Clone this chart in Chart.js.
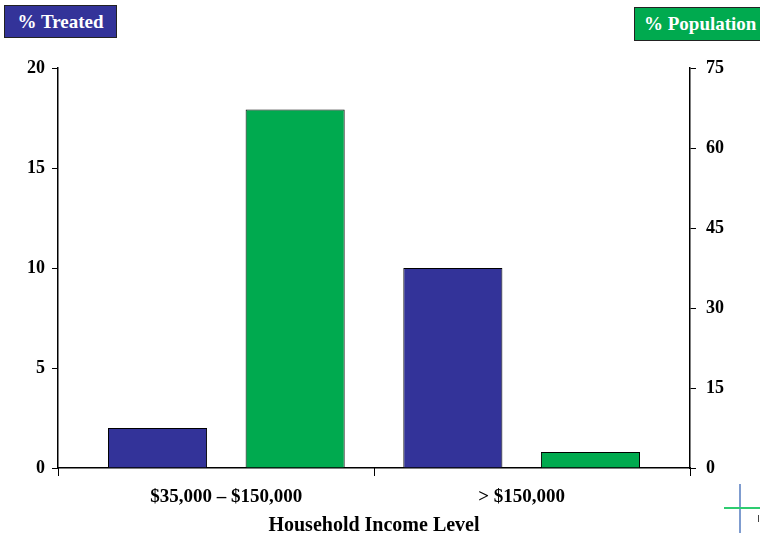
<!DOCTYPE html>
<html>
<head>
<meta charset="utf-8">
<script src="https://cdn.jsdelivr.net/npm/chart.js@4"></script>
<style>
  body { margin: 0; background: #fff; }
  #wrap { position: relative; width: 760px; height: 535px; }
  .key {
    position: absolute; color: #fff; font: bold 19px "Liberation Serif", "Times New Roman", serif;
    border: 1px solid #222; box-sizing: border-box; display: flex; align-items: center; justify-content: center;
  }
</style>
</head>
<body>
<div id="wrap">
  <canvas id="chart" width="760" height="535"></canvas>
  <div class="key" style="left:4px;top:5px;width:113px;height:33px;background:#333399;">% Treated</div>
  <div class="key" style="left:634px;top:7px;width:130px;height:34px;background:#00AA4F;justify-content:flex-start;padding-left:9px;">% Population</div>
</div>
<script>
const categories = ['$35,000 \u2013 $150,000', '> $150,000'];
const treated = [2, 10];
const population = [67.2, 3];
const leftTicks = [0, 5, 10, 15, 20];
const rightTicks = [0, 15, 30, 45, 60, 75];

const font = { family: '"Liberation Serif", "Times New Roman", serif', weight: 'bold', size: 18 };

// x runs as a linear scale: category i sits at i + 1
const xMin = 0.43, xMax = 2.57;
const toPoints = arr => arr.map((v, i) => ({ x: i + 1, y: v }));

// small cross mark at the bottom right of the slide
const cross = {
  id: 'cross',
  afterDraw(chart) {
    const c = chart.ctx;
    c.save();
    c.lineWidth = 2;
    c.strokeStyle = '#7f9ccf';
    c.beginPath(); c.moveTo(740, 484); c.lineTo(740, 533); c.stroke();
    c.strokeStyle = '#2ecc71';
    c.beginPath(); c.moveTo(724, 508); c.lineTo(760, 508); c.stroke();
    c.strokeStyle = '#444'; c.lineWidth = 1;
    c.beginPath(); c.moveTo(758.5, 515); c.lineTo(758.5, 522); c.stroke();
    c.restore();
  }
};

new Chart(document.getElementById('chart'), {
  type: 'bar',
  data: {
    datasets: [
      { label: '% Treated', data: toPoints(treated), yAxisID: 'y', backgroundColor: '#333399', borderColor: '#000', borderWidth: 1 },
      { label: '% Population', data: toPoints(population), yAxisID: 'y1', backgroundColor: '#00AA4F', borderColor: '#000', borderWidth: 1 }
    ]
  },
  options: {
    responsive: false,
    animation: false,
    layout: { padding: { top: 68, left: 0, right: 0, bottom: 0 } },
    categoryPercentage: 0.932,
    barPercentage: 0.72,
    plugins: { legend: { display: false }, tooltip: { enabled: false } },
    scales: {
      x: {
        type: 'linear',
        position: 'bottom',
        weight: 1,
        offset: false,
        min: xMin, max: xMax,
        afterBuildTicks(s) { s.ticks = categories.map((c, i) => ({ value: i + 1 })); },
        grid: { display: true, offset: false, drawOnChartArea: false, drawTicks: true, tickLength: 8, color: 'rgba(0,0,0,0)' },
        border: { display: true, color: '#000', width: 1.5 },
        ticks: { color: '#000', font: { ...font, size: 19 }, padding: 10, callback: (v, i) => categories[i] },
        title: { display: true, text: 'Household Income Level', color: '#000', font: { ...font, size: 20 }, padding: { top: 0, bottom: -3 } },
        afterFit(s) { s.height = 67; }
      },
      // tick marks between the categories
      xDiv: {
        type: 'linear',
        position: 'bottom',
        weight: 0,
        offset: false,
        min: xMin, max: xMax,
        afterBuildTicks(s) { s.ticks = [xMin, 1.5, xMax].map(v => ({ value: v })); },
        grid: { display: true, offset: false, drawOnChartArea: false, drawTicks: true, tickLength: 8, color: '#000' },
        border: { display: false },
        ticks: { display: false },
        afterFit(s) { s.height = 0; }
      },
      y: {
        position: 'left',
        min: 0, max: 20,
        afterBuildTicks(s) { s.ticks = leftTicks.map(v => ({ value: v })); },
        grid: { display: true, drawOnChartArea: false, drawTicks: true, tickLength: 6, color: '#000' },
        border: { display: true, color: '#000', width: 1.5 },
        ticks: { color: '#000', font: font, padding: 7 },
        afterFit(s) { s.width = 58; }
      },
      y1: {
        position: 'right',
        min: 0, max: 75,
        afterBuildTicks(s) { s.ticks = rightTicks.map(v => ({ value: v })); },
        grid: { display: true, drawOnChartArea: false, drawTicks: true, tickLength: 6, color: '#000' },
        border: { display: true, color: '#000', width: 1.5 },
        ticks: { color: '#000', font: font, padding: 10 },
        afterFit(s) { s.width = 70; }
      }
    }
  },
  plugins: [cross]
});
</script>
</body>
</html>
